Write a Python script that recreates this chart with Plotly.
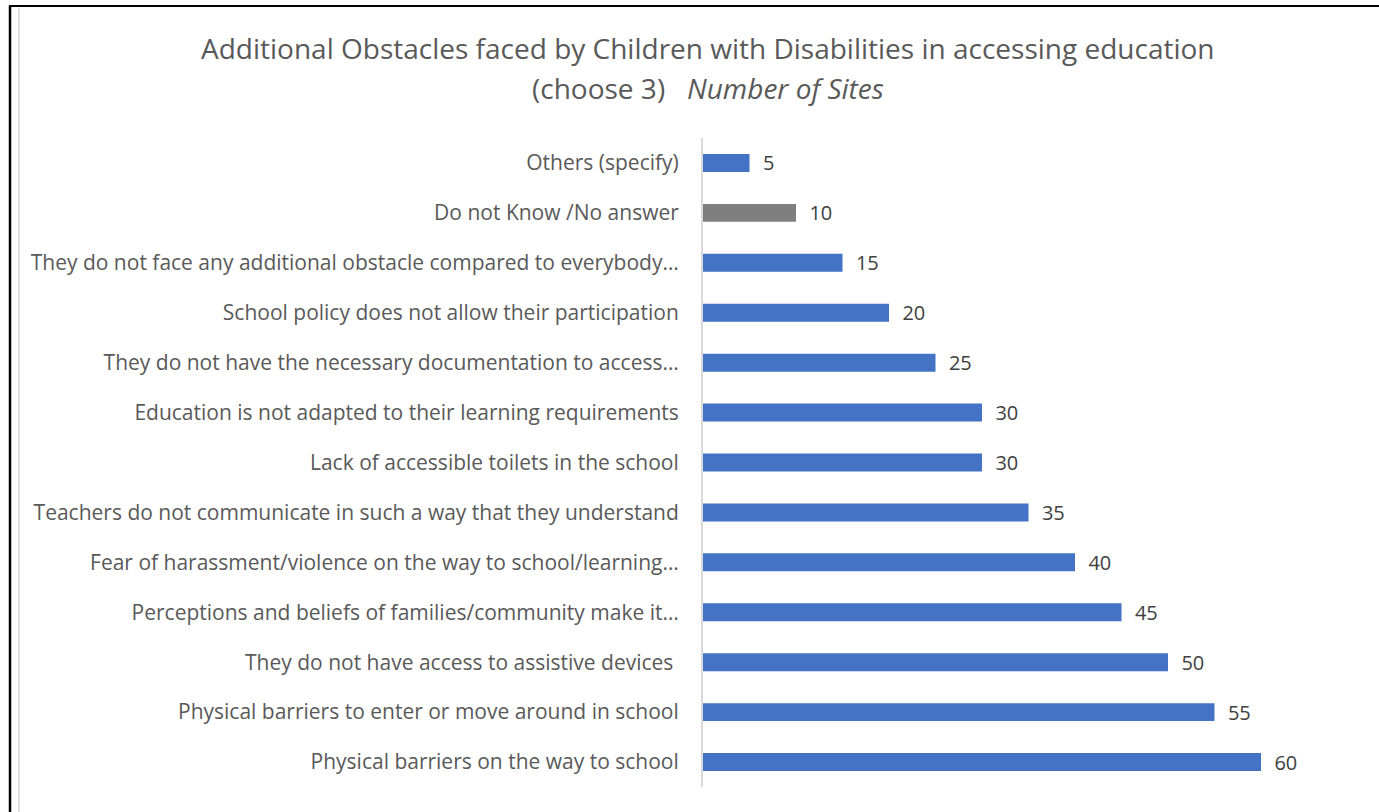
import plotly.graph_objects as go

categories = [
    "Physical barriers on the way to school",
    "Physical barriers to enter or move around in school",
    "They do not have access to assistive devices\u00a0",
    "Perceptions and beliefs of families/community make it…",
    "Fear of harassment/violence on the way to school/learning…",
    "Teachers do not communicate in such a way that they understand",
    "Lack of accessible toilets in the school",
    "Education is not adapted to their learning requirements",
    "They do not have the necessary documentation to access…",
    "School policy does not allow their participation",
    "They do not face any additional obstacle compared to everybody…",
    "Do not Know /No answer",
    "Others (specify)",
]
values = [60, 55, 50, 45, 40, 35, 30, 30, 25, 20, 15, 10, 5]
bar_colors = ["#4472C4"] * 11 + ["#7F7F7F", "#4472C4"]

W, H = 1379, 812
L, R, T, B = 703, 25, 138, 25
pw, ph = W - L - R, H - T - B

def px_x(p):
    return (p - L) / pw

def px_y(p):
    return 1 - (p - T) / ph

font = "Open Sans"
fig = go.Figure(go.Bar(
    y=categories, x=values, orientation="h",
    marker=dict(color=bar_colors, line=dict(width=0)),
    text=[f"  {v}" for v in values], textposition="outside",
    textfont=dict(family=font, size=20, color="#404040"),
    constraintext="none",
    cliponaxis=False, width=0.36,
))

fig.update_layout(
    width=W, height=H,
    margin=dict(l=L, r=R, t=T, b=B),
    paper_bgcolor="white", plot_bgcolor="white",
    showlegend=False,
    font=dict(family=font, color="#595959"),
    xaxis=dict(range=[0, 70], showgrid=False, zeroline=False, showticklabels=False,
               showline=False, fixedrange=True),
    yaxis=dict(showline=True, linecolor="#D9D9D9", linewidth=2, ticks="",
               tickfont=dict(family=font, size=21, color="#595959"),
               ticklabelstandoff=18, showgrid=False),
    bargap=0.64,
    annotations=[
        dict(text="Additional Obstacles faced by Children with Disabilities in accessing education",
             x=px_x(708), y=px_y(48), xref="paper", yref="paper", showarrow=False,
             xanchor="center", yanchor="middle",
             font=dict(family=font, size=28, color="#595959")),
        dict(text="(choose 3)   <i>Number of Sites</i>",
             x=px_x(708), y=px_y(88), xref="paper", yref="paper", showarrow=False,
             xanchor="center", yanchor="middle",
             font=dict(family=font, size=28, color="#595959")),
    ],
    shapes=[
        dict(type="line", xref="paper", yref="paper", x0=px_x(9), x1=px_x(W + 5),
             y0=px_y(6), y1=px_y(6), line=dict(color="black", width=2)),
        dict(type="line", xref="paper", yref="paper", x0=px_x(10), x1=px_x(10),
             y0=px_y(6), y1=px_y(H + 5), line=dict(color="black", width=2.5)),
        dict(type="line", xref="paper", yref="paper", x0=px_x(19), x1=px_x(19),
             y0=px_y(8), y1=px_y(H + 5), line=dict(color="#D9D9D9", width=1.5)),
    ],
)

fig.write_html("out.html")
